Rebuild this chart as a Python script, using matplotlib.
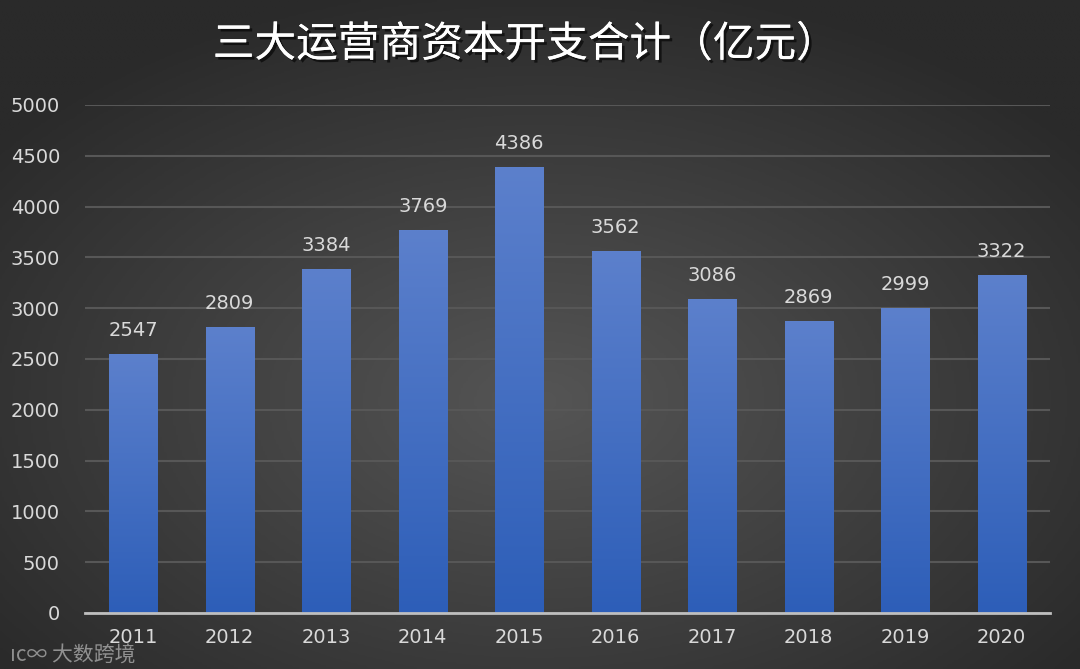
import matplotlib.pyplot as plt
import matplotlib.patheffects as pe
import numpy as np
from matplotlib.colors import LinearSegmentedColormap

plt.rcParams['font.family'] = ['Noto Sans CJK SC', 'DejaVu Sans']

years = ['2011', '2012', '2013', '2014', '2015', '2016', '2017', '2018', '2019', '2020']
capex = [2547, 2809, 3384, 3769, 4386, 3562, 3086, 2869, 2999, 3322]
yticks = [0, 500, 1000, 1500, 2000, 2500, 3000, 3500, 4000, 4500, 5000]
title = '三大运营商资本开支合计（亿元）'

fig = plt.figure(figsize=(10.8, 6.69), dpi=100)

# radial background gradient
bg = fig.add_axes([0, 0, 1, 1])
yy, xx = np.mgrid[0:1:300j, 0:1:480j]
r = np.sqrt(((xx - 0.5) / 0.75) ** 2 + ((yy - 0.6) / 0.75) ** 2)
bg_cmap = LinearSegmentedColormap.from_list('bg', ['#555555', '#2a2a2a'])
bg.imshow(r, cmap=bg_cmap, extent=[0, 1, 0, 1], aspect='auto', vmin=0, vmax=0.85)
bg.axis('off')

ax = fig.add_axes([85 / 1080, 1 - 613 / 669, 965 / 1080, 508 / 669])
ax.set_facecolor('none')

bar_cmap = LinearSegmentedColormap.from_list('bar', ['#2d5eb8', '#5c80cc'])
grad = np.linspace(0, 1, 256).reshape(-1, 1)
w = 0.25
for i, v in enumerate(capex):
    ax.imshow(grad, cmap=bar_cmap, origin='lower', extent=[i - w, i + w, 0, v],
              aspect='auto', zorder=3)
    ax.text(i, v + 140, str(v), ha='center', va='bottom', color='#d9d9d9', fontsize=14,
            family='DejaVu Sans', zorder=4)
ax.set_aspect('auto')
ax.set_xlim(-0.5, len(years) - 0.5)
ax.set_ylim(0, 5000)

ax.set_yticks(yticks)
ax.set_yticklabels([str(t) for t in yticks])
ax.set_xticks(range(len(years)))
ax.set_xticklabels(years)
ax.tick_params(colors='#d9d9d9', labelsize=14, length=0, pad=11)
for lab in ax.get_xticklabels() + ax.get_yticklabels():
    lab.set_family('DejaVu Sans')
ax.tick_params(axis='y', pad=18)
ax.grid(axis='y', color='#575757', linewidth=1.5, zorder=0)
for s in ['top', 'right', 'left']:
    ax.spines[s].set_visible(False)
ax.spines['bottom'].set_color('#bfbfbf')
ax.spines['bottom'].set_linewidth(2)
ax.spines['bottom'].set_zorder(5)

fig.text(525 / 1080, 1 - 45 / 669, title, ha='center', va='center', color='white',
         fontsize=30, fontweight='medium',
         path_effects=[pe.withSimplePatchShadow(offset=(2, -2), shadow_rgbFace='black', alpha=0.6),
                       pe.Normal()])

fig.text(10 / 1080, 1 - 656 / 669, 'ıc∞ 大数跨境', ha='left', va='center', color='#bbbbbb',
         fontsize=15, alpha=0.7)

fig.savefig('out.png', dpi=100, facecolor='#2e2e2e')
